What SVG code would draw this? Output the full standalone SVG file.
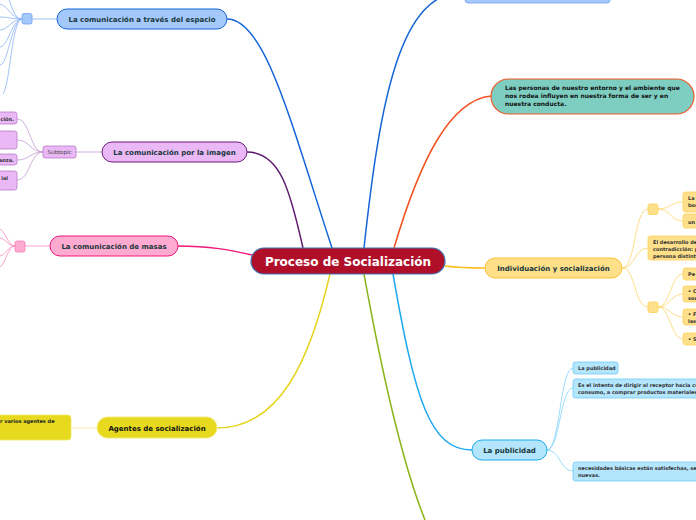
<svg xmlns="http://www.w3.org/2000/svg" width="696" height="520" viewBox="0 0 696 520">
<style>
text{font-family:"DejaVu Sans","Liberation Sans",sans-serif}
.main{font-size:12px;font-weight:bold;fill:#fff;text-anchor:middle}
.n{font-size:7px;font-weight:bold;fill:#17363a;text-anchor:middle}
.s{font-size:5px;font-weight:bold;fill:#333}
.c{fill:none;stroke-width:1.5}
.t{fill:none;stroke-width:0.8}
</style>
<rect width="696" height="520" fill="#fff"/>
<g id="connectors">
<path class="c" stroke="#1565d8" d="M332,248 C290,120 265,19 227,19"/>
<path class="c" stroke="#1565d8" d="M364,248 C380,100 400,-10 465,-8"/>
<path class="c" stroke="#f4511e" d="M394,248 C420,160 450,100 491,96"/>
<path class="c" stroke="#5e1a6e" d="M303,248 C290,190 280,152 247,152"/>
<path class="c" stroke="#f0187a" d="M252,255 C230,250 210,246 178,246"/>
<path class="c" stroke="#e6d520" d="M330,274 C310,360 280,428 217,428"/>
<path class="c" stroke="#8cb41c" d="M364,274 C385,390 405,470 425,520"/>
<path class="c" stroke="#1eaaf1" d="M393,274 C415,400 430,450 472,450"/>
<path class="c" stroke="#ffbf1f" d="M445,266 C460,268 470,268 485,268"/>
<g stroke="#8ab4f8" class="t">
<path d="M32,19 L57,19"/>
<path d="M22,19 C12,19 12,0 6,-4"/>
<path d="M22,19 C12,19 8,6 0,4"/>
<path d="M22,19 C12,19 8,17 0,17"/>
<path d="M22,19 C12,19 8,30 0,30"/>
<path d="M22,19 C12,19 8,47 0,47"/>
<path d="M22,19 C12,19 8,65 0,65"/>
<path d="M22,19 C12,19 10,85 3,94"/>
</g>
<g stroke="#c39bd3" class="t">
<path d="M76,152 L102,152"/>
<path d="M43,152 C30,152 30,119 17,119"/>
<path d="M43,152 C30,152 30,140 17,140"/>
<path d="M43,152 C30,152 30,160 17,160"/>
<path d="M43,152 C30,152 30,180 17,180"/>
</g>
<g stroke="#ff8ac0" class="t">
<path d="M25,246 L50,246"/>
<path d="M15,246 C8,246 6,232 0,229"/>
<path d="M15,246 C8,246 6,239 0,238"/>
<path d="M15,246 C8,246 6,255 0,256"/>
<path d="M15,246 C8,246 6,263 0,267"/>
</g>
<path stroke="#f5ec9a" class="t" d="M71,428 L97,428"/>
<g stroke="#ffd56b" class="t">
<path d="M622,268 C636,268 634,209 648,209"/>
<path d="M622,268 C636,268 634,248 648,248"/>
<path d="M622,268 C636,268 634,307 648,307"/>
<path d="M658,209 C670,209 671,202 683,202"/>
<path d="M658,209 C670,209 671,221 683,221"/>
<path d="M658,307 C670,307 671,274 683,274"/>
<path d="M658,307 C670,307 671,294 683,294"/>
<path d="M658,307 C670,307 671,317 683,317"/>
<path d="M658,307 C670,307 671,339 683,339"/>
</g>
<g stroke="#81d4fa" class="t">
<path d="M547,450 C560,450 560,368 573,368"/>
<path d="M547,450 C560,450 560,388 573,388"/>
<path d="M547,450 C560,450 560,471 573,471"/>
</g>
</g>
<g id="central">
<rect x="251" y="248" width="194" height="26" rx="13" fill="#b00f2a" stroke="#3f72b0" stroke-width="1.2"/>
<text class="main" x="348" y="266">Proceso de Socialización</text>
</g>
<g id="n-espacio">
<rect x="22" y="13.5" width="10" height="10.5" rx="2" fill="#a5c8fb" stroke="#6ea0ee" stroke-width="0.8"/>
<rect x="57" y="9" width="170" height="20" rx="10" fill="#a5c8fb" stroke="#1565d8" stroke-width="1"/>
<text class="n" x="142" y="21.5">La comunicación a través del espacio</text>
</g>
<g id="n-top">
<rect x="465" y="-20" width="145" height="23" rx="3" fill="#a5c8fb" stroke="#6ea0ee" stroke-width="0.8"/>
</g>
<g id="n-personas">
<rect x="491" y="79" width="203" height="35" rx="17.5" fill="#7dcdc0" stroke="#f05a28" stroke-width="1.2"/>
<text class="s" style="font-size:6px;fill:#111" x="505" y="90">Las personas de nuestro entorno y el ambiente que</text>
<text class="s" style="font-size:6px;fill:#111" x="505" y="98">nos rodea influyen en nuestra forma de ser y en</text>
<text class="s" style="font-size:6px;fill:#111" x="505" y="106">nuestra conducta.</text>
</g>
<g id="n-imagen">
<rect x="43" y="146" width="33" height="12" rx="2" fill="#e9b8f5" stroke="#b87cc8" stroke-width="0.8"/>
<text x="59.5" y="154" style="font-size:5.5px;fill:#444;text-anchor:middle">Subtopic</text>
<rect x="-10" y="112" width="27" height="12" rx="2.5" fill="#e9b8f5" stroke="#b87cc8" stroke-width="0.8"/>
<text class="s" x="14" y="120.5" text-anchor="end">ción.</text>
<rect x="-10" y="131" width="27" height="18" rx="2.5" fill="#e9b8f5" stroke="#b87cc8" stroke-width="0.8"/>
<rect x="-10" y="154" width="27" height="11" rx="2.5" fill="#e9b8f5" stroke="#b87cc8" stroke-width="0.8"/>
<text class="s" x="14" y="162" text-anchor="end">anza.</text>
<rect x="-10" y="171" width="27" height="19" rx="2.5" fill="#e9b8f5" stroke="#b87cc8" stroke-width="0.8"/>
<text class="s" x="8" y="179.5" text-anchor="end">ial</text>
<rect x="102" y="142" width="145" height="20" rx="10" fill="#e9b8f5" stroke="#6a1b7a" stroke-width="1"/>
<text class="n" x="174.5" y="154.5">La comunicación por la imagen</text>
</g>
<g id="n-masas">
<rect x="15" y="241" width="10" height="11" rx="2" fill="#ffaad0" stroke="#ff7ab5" stroke-width="0.8"/>
<rect x="50" y="236" width="128" height="20" rx="10" fill="#ffaad0" stroke="#f0187a" stroke-width="1"/>
<text class="n" x="114" y="248.5">La comunicación de masas</text>
</g>
<g id="n-agentes">
<rect x="-10" y="415" width="81" height="25" rx="3" fill="#e6d91e" stroke="#f0e870" stroke-width="0.8"/>
<text class="s" style="fill:#222" x="0" y="423">r varios agentes de</text>
<rect x="97" y="417" width="120" height="21" rx="10.5" fill="#e6d91e" stroke="#f3ea7a" stroke-width="1"/>
<text class="n" style="fill:#111" x="157" y="430.5">Agentes de socialización</text>
</g>
<g id="n-individuacion">
<rect x="485" y="258" width="137" height="20" rx="10" fill="#ffe08a" stroke="#ffc233" stroke-width="1"/>
<text class="n" x="553.5" y="270.5">Individuación y socialización</text>
<rect x="648" y="204" width="10" height="10.5" rx="2" fill="#ffe08a" stroke="#ffd15c" stroke-width="0.8"/>
<rect x="683" y="192" width="30" height="20" rx="2.5" fill="#ffe08a" stroke="#ffd15c" stroke-width="0.8"/>
<text class="s" x="688" y="200">La</text>
<text class="s" x="688" y="207">boc</text>
<rect x="683" y="214" width="30" height="14" rx="2.5" fill="#ffe08a" stroke="#ffd15c" stroke-width="0.8"/>
<text class="s" x="688" y="223.5">un</text>
<rect x="648" y="236" width="60" height="24" rx="2.5" fill="#ffe08a" stroke="#ffd15c" stroke-width="0.8"/>
<text class="s" x="653" y="243.5">El desarrollo del</text>
<text class="s" x="653" y="250.5">contradicción: p</text>
<text class="s" x="653" y="257.5">persona distinta</text>
<rect x="648" y="302" width="10" height="10.5" rx="2" fill="#ffe08a" stroke="#ffd15c" stroke-width="0.8"/>
<rect x="683" y="268" width="30" height="12" rx="2.5" fill="#ffe08a" stroke="#ffd15c" stroke-width="0.8"/>
<text class="s" x="688" y="276">Pe</text>
<rect x="683" y="286" width="30" height="16" rx="2.5" fill="#ffe08a" stroke="#ffd15c" stroke-width="0.8"/>
<text class="s" x="688" y="292.5">• C</text>
<text class="s" x="688" y="299.5">soc</text>
<rect x="683" y="309" width="30" height="16" rx="2.5" fill="#ffe08a" stroke="#ffd15c" stroke-width="0.8"/>
<text class="s" x="688" y="315.5">• F</text>
<text class="s" x="688" y="322.5">las</text>
<rect x="683" y="333" width="30" height="12" rx="2.5" fill="#ffe08a" stroke="#ffd15c" stroke-width="0.8"/>
<text class="s" x="688" y="341">• S</text>
</g>
<g id="n-publicidad">
<rect x="472" y="440" width="75" height="20" rx="10" fill="#b3e5fc" stroke="#1da9e6" stroke-width="1"/>
<text class="n" x="509.5" y="452.5">La publicidad</text>
<rect x="573" y="362" width="45" height="12" rx="2.5" fill="#b3e5fc" stroke="#6fcbf5" stroke-width="0.8"/>
<text class="s" x="578" y="370">La publicidad</text>
<rect x="573" y="379" width="140" height="19" rx="2.5" fill="#b3e5fc" stroke="#6fcbf5" stroke-width="0.8"/>
<text class="s" x="578" y="387">Es el intento de dirigir al receptor hacia co</text>
<text class="s" x="578" y="394">consumo, a comprar productos materiales.</text>
<rect x="573" y="462" width="140" height="19" rx="2.5" fill="#b3e5fc" stroke="#6fcbf5" stroke-width="0.8"/>
<text class="s" x="578" y="470">necesidades básicas están satisfechas, se l</text>
<text class="s" x="578" y="477">nuevas.</text>
</g>
</svg>
